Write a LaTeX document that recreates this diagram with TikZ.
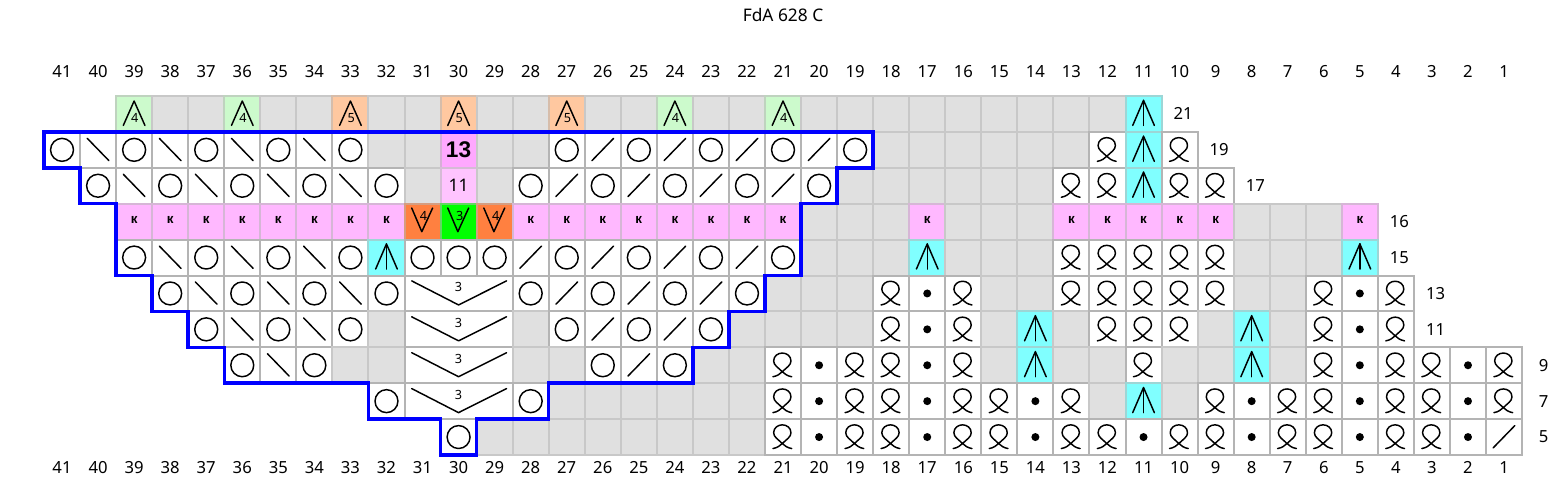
\documentclass[tikz,border=0pt]{standalone}
\usepackage{fontspec}
\setmainfont{Noto Sans}
\newfontfamily\lsans{Liberation Sans}
\definecolor{gridc}{RGB}{180,180,180}
\definecolor{grayc}{RGB}{224,224,224}
\definecolor{lgreen}{RGB}{204,250,204}
\definecolor{lorange}{RGB}{255,200,160}
\definecolor{kpink}{RGB}{255,184,255}
\definecolor{pinkA}{RGB}{255,168,255}
\definecolor{pinkB}{RGB}{255,196,255}
\definecolor{dorange}{RGB}{255,128,64}
\definecolor{bgreen}{RGB}{0,255,0}
\definecolor{cyanc}{RGB}{128,255,255}
\newcommand{\cbox}[1]{\filldraw[fill=#1, draw=#1!45!gridc, line width=1.5pt] (0,0) rectangle (1,1);}
\newcommand{\wbox}{\filldraw[fill=white, draw=gridc, line width=1.5pt] (0,0) rectangle (1,1);}
\newcommand{\mystrip}[1]{#1}
\tikzset{
  sym/.style={line width=1.1pt, draw=black, line cap=round, line join=round},
  numsmall/.style={font=\fontsize{9.5}{10}\selectfont, inner sep=0pt},
  lbl/.style={font=\fontsize{12.5}{14}\selectfont, inner sep=0pt},
  pics/kO/.style={code={\wbox \draw[sym] (0.5,0.5) circle (8.6pt);}},
  pics/kB/.style={code={\wbox \draw[sym] (0.2,0.18) -- (0.8,0.8);}},
  pics/kF/.style={code={\wbox \draw[sym] (0.2,0.8) -- (0.8,0.18);}},
  pics/kG/.style={code={\cbox{grayc}}},
  pics/kD/.style={code={\wbox \fill (0.5,0.5) circle (3pt);}},
  pics/kQ/.style={code={\wbox
    \draw[sym] (0.22,0.82) .. controls (0.34,0.8) and (0.42,0.74) .. (0.48,0.68)
      .. controls (0.6,0.56) and (0.72,0.5) .. (0.72,0.38)
      .. controls (0.72,0.24) and (0.6,0.16) .. (0.48,0.16)
      .. controls (0.36,0.16) and (0.24,0.24) .. (0.24,0.38)
      .. controls (0.24,0.5) and (0.36,0.56) .. (0.48,0.68)
      .. controls (0.54,0.74) and (0.62,0.8) .. (0.74,0.82);}},
  pics/kC/.style={code={\cbox{cyanc}
    \draw[sym] (0.2,0.82) -- (0.5,0.12) -- (0.8,0.82); \draw[sym] (0.5,0.12) -- (0.5,0.82);}},
  pics/kK/.style={code={\cbox{kpink}
    \node[font=\lsans\bfseries\fontsize{10}{10}\selectfont, inner sep=0pt] at (0.5,0.44) {к};}},
  pics/kAfour/.style={code={\cbox{lgreen}
    \draw[sym] (0.2,0.82) -- (0.5,0.14) -- (0.8,0.82);
    \node[numsmall] at (0.52,0.62) {4};}},
  pics/kAfive/.style={code={\cbox{lorange}
    \draw[sym] (0.2,0.82) -- (0.5,0.14) -- (0.8,0.82);
    \node[numsmall] at (0.52,0.62) {5};}},
  pics/kVfour/.style={code={\cbox{dorange}
    \draw[sym] (0.2,0.12) -- (0.48,0.78) -- (0.78,0.12);
    \node[numsmall] at (0.53,0.33) {4};}},
  pics/kVthree/.style={code={\cbox{bgreen}
    \draw[sym] (0.2,0.12) -- (0.48,0.78) -- (0.78,0.12);
    \node[numsmall] at (0.53,0.33) {3};}},
  pics/kNa/.style={code={\cbox{pinkA}
    \node[font=\lsans\bfseries\fontsize{17}{18}\selectfont, inner sep=0pt] at (0.5,0.5) {13};}},
  pics/kNb/.style={code={\cbox{pinkB}
    \node[font=\fontsize{13}{14}\selectfont, inner sep=0pt] at (0.5,0.5) {11};}},
  pics/kM/.style={code={\filldraw[fill=white, draw=gridc, line width=1.5pt] (0,0) rectangle (3,1);
    \draw[sym] (0.2,0.15) -- (1.5,0.82) -- (2.83,0.15);
    \node[numsmall] at (1.5,0.33) {3};}},
  pics/kX/.style={code={}},
}
\begin{document}
\begin{tikzpicture}[x=27.0375pt,y=-26.925pt]
\useasboundingbox (-1.2205,-2.6741) rectangle (42.2191,11.2535);
\fill[white] (-1.2205,-2.6741) rectangle (42.2191,11.2535);
\node[font=\fontsize{13}{15}\selectfont, inner sep=0pt] (title) at (20.5,-2.256) {FdA 628 C};
\foreach \c in {1,...,41} {
  \node[lbl] (ct\c) at ({41.5-\c},-0.67) {\c};
  \node[lbl] (cb\c) at ({41.5-\c},10.36) {\c};
}
\foreach \r/\s/\lst in {
 0/2/{Afour,G,G,Afour,G,G,Afive,G,G,Afive,G,G,Afive,G,G,Afour,G,G,Afour,G,G,G,G,G,G,G,G,G,C},
 1/0/{O,B,O,B,O,B,O,B,O,G,G,Na,G,G,O,F,O,F,O,F,O,F,O,G,G,G,G,G,G,Q,C,Q},
 2/1/{O,B,O,B,O,B,O,B,O,G,Nb,G,O,F,O,F,O,F,O,F,O,G,G,G,G,G,G,Q,Q,C,Q,Q},
 3/2/{K,K,K,K,K,K,K,K,Vfour,Vthree,Vfour,K,K,K,K,K,K,K,K,G,G,G,K,G,G,G,K,K,K,K,K,G,G,G,K},
 4/2/{O,B,O,B,O,B,O,C,O,O,O,F,O,F,O,F,O,F,O,G,G,G,C,G,G,G,Q,Q,Q,Q,Q,G,G,G,C},
 5/3/{O,B,O,B,O,B,O,M,X,X,O,F,O,F,O,F,O,G,G,G,Q,D,Q,G,G,Q,Q,Q,Q,Q,G,G,Q,D,Q},
 6/4/{O,B,O,B,O,G,M,X,X,G,O,F,O,F,O,G,G,G,G,Q,D,Q,G,C,G,Q,Q,Q,G,C,G,Q,D,Q},
 7/5/{O,B,O,G,G,M,X,X,G,G,O,F,O,G,G,Q,D,Q,Q,D,Q,G,C,G,G,Q,G,G,C,G,Q,D,Q,Q,D,Q},
 8/9/{O,M,X,X,O,G,G,G,G,G,G,Q,D,Q,Q,D,Q,Q,D,Q,G,C,G,Q,D,Q,Q,D,Q,Q,D,Q},
 9/11/{O,G,G,G,G,G,G,G,G,Q,D,Q,Q,D,Q,Q,D,Q,Q,D,Q,Q,D,Q,Q,D,Q,Q,D,F}
} {
  \edef\lstb{\expandafter\mystrip\lst}
  \foreach \t [count=\i from 0] in \lstb {
    \pgfmathtruncatemacro\xx{\s+\i}
    \edef\tmp{\noexpand\pic at (\xx,\r) {k\t};}
    \tmp
  }
}
\draw[blue, line width=2.6pt, line join=miter]
  (0,1) -- (23,1) -- (23,2) -- (22,2) -- (22,3) -- (21,3) -- (21,5) -- (20,5)
  -- (20,6) -- (19,6) -- (19,7) -- (18,7) -- (18,8) -- (14,8) -- (14,9) -- (12,9)
  -- (12,10) -- (11,10) -- (11,9) -- (9,9) -- (9,8) -- (5,8) -- (5,7) -- (4,7)
  -- (4,6) -- (3,6) -- (3,5) -- (2,5) -- (2,3) -- (1,3) -- (1,2) -- (0,2) -- cycle;
\node[lbl] (r21) at (31.6,0.5) {21};
\node[lbl] (r19) at (32.6,1.5) {19};
\node[lbl] (r17) at (33.6,2.5) {17};
\node[lbl] (r16) at (37.6,3.5) {16};
\node[lbl] (r15) at (37.6,4.5) {15};
\node[lbl] (r13) at (38.6,5.5) {13};
\node[lbl] (r11) at (38.6,6.5) {11};
\node[lbl] (r9) at (41.6,7.5) {9};
\node[lbl] (r7) at (41.6,8.5) {7};
\node[lbl] (r5) at (41.6,9.5) {5};
\end{tikzpicture}
\end{document}
